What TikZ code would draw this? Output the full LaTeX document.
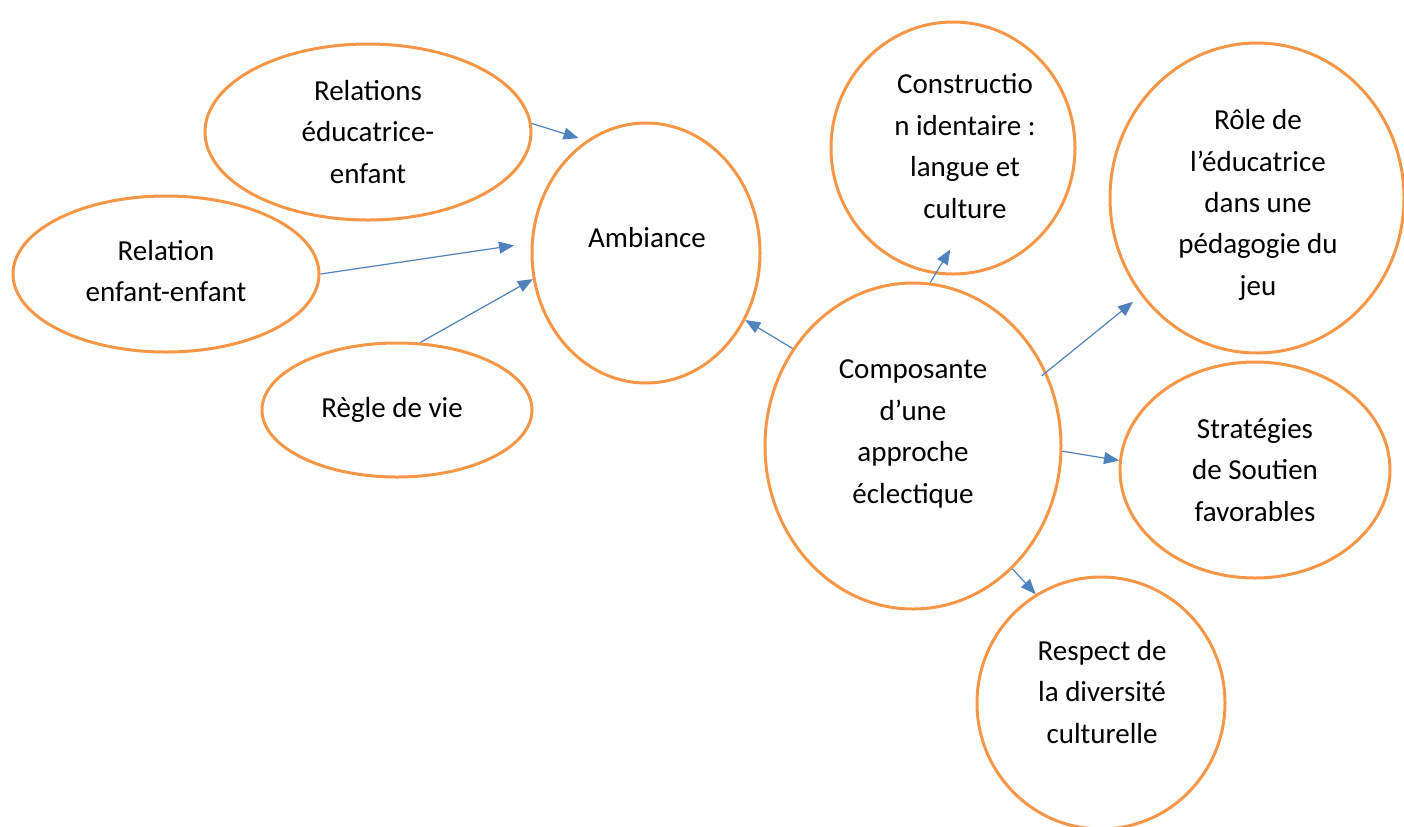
\documentclass[tikz,border=0pt]{standalone}
\usepackage{fontspec}
\setmainfont{Carlito}
\usetikzlibrary{shapes.geometric,arrows.meta}
\definecolor{bubbleorange}{HTML}{F79646}
\definecolor{linkblue}{HTML}{4F81BD}

\begin{document}
\begin{tikzpicture}[
  x=0.5pt, y=-0.5pt,
  bubble/.style={ellipse, draw=bubbleorange, line width=1.5pt, inner sep=0pt},
  lbl/.style={align=center, font=\fontsize{14.5}{20.7}\selectfont, inner sep=0pt},
  link/.style={draw=linkblue, line width=0.6pt, -{Triangle[length=7.5pt,width=6pt]}}
]
  \useasboundingbox (0,0) rectangle (1404,826);

  % Bubbles (left group)
  \node (rel) at (368,132) [bubble, minimum width=163pt, minimum height=88pt] {};
  \node (renf) at (166,274) [bubble, minimum width=153pt, minimum height=78pt] {};
  \node (regle) at (397,410) [bubble, minimum width=135pt, minimum height=67pt] {};
  \node (amb) at (646,253) [bubble, minimum width=114pt, minimum height=130pt] {};

  % Bubbles (right group)
  \node (constr) at (953,148) [bubble, minimum width=122pt, minimum height=126pt] {};
  \node (role) at (1257,198) [bubble, minimum width=147pt, minimum height=155pt] {};
  \node (comp) at (913,446) [bubble, minimum width=148pt, minimum height=163pt] {};
  \node (strat) at (1255,470) [bubble, minimum width=135pt, minimum height=108pt] {};
  \node (resp) at (1101,703) [bubble, minimum width=124pt, minimum height=126pt] {};

  % Labels
  \node (rel-t) at (368,132) [lbl] {Relations\\éducatrice-\\enfant};
  \node (renf-t) at (166,271) [lbl] {Relation\\enfant-enfant};
  \node (regle-t) at (392,410) [lbl] {Règle de vie};
  \node (amb-t) at (647,238) [lbl] {Ambiance};
  \node (constr-t) at (965,146) [lbl] {Constructio\\n identaire :\\langue et\\culture};
  \node (role-t) at (1258,205) [lbl] {Rôle de\\l’éducatrice\\dans une\\pédagogie du\\jeu};
  \node (comp-t) at (913,434) [lbl] {Composante\\d’une\\approche\\éclectique};
  \node (strat-t) at (1255,470) [lbl] {Stratégies\\de Soutien\\favorables};
  \node (resp-t) at (1102,692) [lbl] {Respect de\\la diversité\\culturelle};

  % Links into Ambiance
  \draw [link, shorten >=4pt] (rel.3.5) -- (amb.118);
  \draw [link, shorten >=8.5pt] (renf.0) -- (amb.175.6);
  \draw [link] (regle.71) -- (amb.193);
  \draw [link] (comp.141.6) -- (amb.-34);

  % Links out of Composante
  \draw [link, shorten >=-14.5pt] (comp.84) -- (constr.262.3);
  \draw [link, shorten <=-3pt, shorten >=5pt] (comp.29.5) -- (role.220.7);
  \draw [link] (comp.-2) -- (strat.176.5);
  \draw [link] (comp.-51) -- (resp.121);

\end{tikzpicture}
\end{document}
